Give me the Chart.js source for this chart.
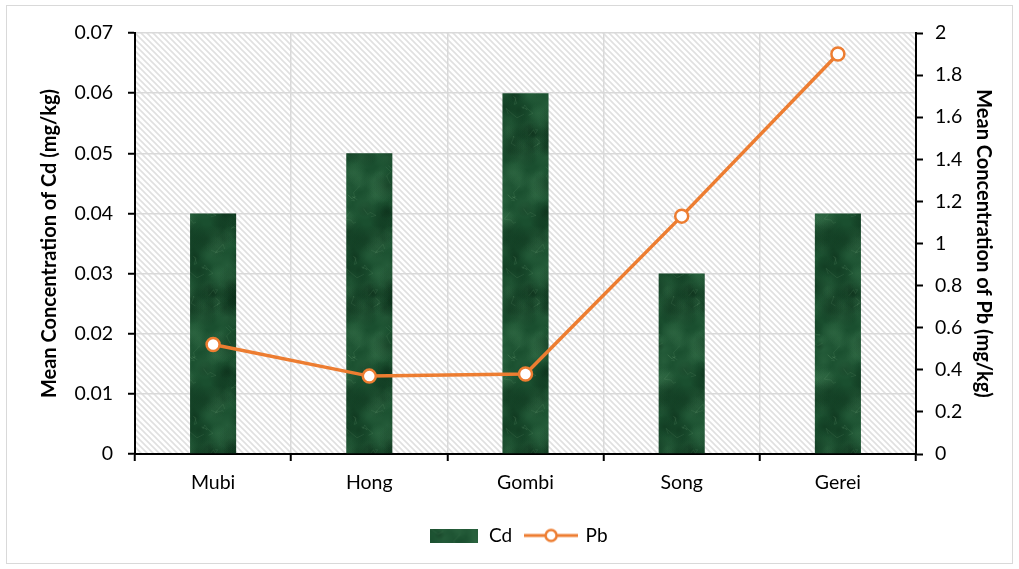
<!DOCTYPE html>
<html>
<head>
<meta charset="utf-8">
<script src="https://cdn.jsdelivr.net/npm/chart.js@4/dist/chart.umd.min.js"></script>
<style>
  html, body { margin: 0; padding: 0; background: #fff; }
  #wrap { width: 1019px; height: 569px; }
</style>
</head>
<body>
<div id="wrap"><canvas id="chart" width="1019" height="569"></canvas></div>
<script>
// data
const sites = ["Mubi", "Hong", "Gombi", "Song", "Gerei"];
const cdValues = [0.04, 0.05, 0.06, 0.03, 0.04];
const pbValues = [0.52, 0.37, 0.38, 1.13, 1.9];
const cdTicks = [0, 0.01, 0.02, 0.03, 0.04, 0.05, 0.06, 0.07];
const pbTicks = [0, 0.2, 0.4, 0.6, 0.8, 1, 1.2, 1.4, 1.6, 1.8, 2];

const FONT = "Lato, 'Open Sans', sans-serif";
const ORANGE = "#ed7d31";

// simple seeded generator so the marble texture looks the same every time
let seed = 11;
function rnd() {
  seed = (seed * 16807) % 2147483647;
  return (seed - 1) / 2147483646;
}

// dark green marble texture for the Cd bars
function makeMarble() {
  const c = document.createElement("canvas");
  c.width = 160; c.height = 160;
  const g = c.getContext("2d");
  g.fillStyle = "#1a4f2f";
  g.fillRect(0, 0, c.width, c.height);
  for (let i = 0; i < 220; i++) {
    const x = rnd() * c.width, y = rnd() * c.height, r = 5 + rnd() * 14;
    const light = rnd() > 0.55;
    const col = light ? "60,120,80" : "8,38,20";
    const a = light ? 0.3 : 0.4;
    // draw wrapped so the tile repeats without seams
    for (const dx of [-c.width, 0, c.width]) {
      for (const dy of [-c.height, 0, c.height]) {
        const grad = g.createRadialGradient(x + dx, y + dy, 0, x + dx, y + dy, r);
        grad.addColorStop(0, "rgba(" + col + "," + a + ")");
        grad.addColorStop(1, "rgba(" + col + ",0)");
        g.fillStyle = grad;
        g.beginPath(); g.arc(x + dx, y + dy, r, 0, Math.PI * 2); g.fill();
      }
    }
  }
  // faint light veins
  g.strokeStyle = "rgba(120,170,130,0.14)";
  g.lineWidth = 1;
  for (let i = 0; i < 30; i++) {
    let x = rnd() * c.width, y = rnd() * c.height;
    g.beginPath(); g.moveTo(x, y);
    for (let k = 0; k < 4; k++) { x += (rnd() - 0.5) * 14; y += (rnd() - 0.5) * 14; g.lineTo(x, y); }
    g.stroke();
  }
  return c;
}
const marble = makeMarble();
const marblePattern = document.getElementById("chart").getContext("2d").createPattern(marble, "repeat");

// diagonal light-grey stripes behind the plot
function makeStripes() {
  const c = document.createElement("canvas");
  c.width = 6; c.height = 6;
  const g = c.getContext("2d");
  g.fillStyle = "#ffffff";
  g.fillRect(0, 0, 6, 6);
  g.strokeStyle = "#e0e0e0";
  g.lineWidth = 1.6;
  g.beginPath();
  g.moveTo(-1, -1); g.lineTo(7, 7);
  g.moveTo(-1, 5); g.lineTo(1, 7);
  g.moveTo(5, -1); g.lineTo(7, 1);
  g.stroke();
  return c;
}
const stripes = makeStripes();

// legend swatches
function cdSwatch() {
  const c = document.createElement("canvas");
  c.width = 48; c.height = 14;
  const g = c.getContext("2d");
  g.drawImage(marble, 10, 20, 48, 14, 0, 0, 48, 14);
  return c;
}
function pbSwatch() {
  const c = document.createElement("canvas");
  c.width = 54; c.height = 16;
  const g = c.getContext("2d");
  g.strokeStyle = ORANGE; g.lineWidth = 3;
  g.beginPath(); g.moveTo(0, 8); g.lineTo(54, 8); g.stroke();
  g.fillStyle = "#fff"; g.lineWidth = 2.5;
  g.beginPath(); g.arc(27, 8, 5.5, 0, Math.PI * 2); g.fill(); g.stroke();
  return c;
}

const backdrop = {
  id: "backdrop",
  beforeDraw(chart) {
    const { ctx, chartArea: a } = chart;
    ctx.save();
    ctx.fillStyle = "#fff";
    ctx.fillRect(0, 0, chart.width, chart.height);
    ctx.fillStyle = ctx.createPattern(stripes, "repeat");
    ctx.fillRect(a.left, a.top, a.right - a.left, a.bottom - a.top);
    ctx.strokeStyle = "#d9d9d9";
    ctx.lineWidth = 1;
    ctx.strokeRect(6.5, 5.5, 1006, 558);
    ctx.restore();
  }
};

new Chart(document.getElementById("chart"), {
  data: {
    labels: sites,
    datasets: [
      {
        type: "line",
        label: "Pb",
        data: pbValues,
        yAxisID: "y1",
        borderColor: ORANGE,
        borderWidth: 3.5,
        pointRadius: 6.5,
        pointBorderWidth: 2.5,
        pointBackgroundColor: "#fff",
        pointBorderColor: ORANGE,
        tension: 0,
        order: 0
      },
      {
        type: "bar",
        label: "Cd",
        data: cdValues,
        yAxisID: "y",
        backgroundColor: marblePattern,
        barPercentage: 0.295,
        categoryPercentage: 1,
        order: 1
      }
    ]
  },
  options: {
    responsive: false,
    animation: false,
    layout: { padding: { top: 33, left: 38, right: 20, bottom: 14 } },
    scales: {
      x: {
        grid: { color: "#d9d9d9", lineWidth: 1.5, offset: true, tickColor: "#000", tickLength: 7, tickWidth: 2 },
        border: { color: "#000", width: 2 },
        ticks: { color: "#000", font: { family: FONT, size: 19.5 }, padding: 10 },
        afterFit(s) { s.height = 58; }
      },
      y: {
        position: "left",
        min: 0, max: 0.07,
        afterBuildTicks(s) { s.ticks = cdTicks.map(v => ({ value: v })); },
        grid: { color: "#d9d9d9", lineWidth: 1.5, tickColor: "#000", tickLength: 7, tickWidth: 2 },
        border: { color: "#000", width: 2 },
        ticks: {
          color: "#000", font: { family: FONT, size: 19.5 }, padding: 15,
          callback: v => v === 0 ? "0" : v.toFixed(2)
        },
        title: {
          display: true, text: "Mean Concentration of Cd (mg/kg)", color: "#000",
          font: { family: FONT, size: 20, weight: "bold" }, padding: { top: 0, bottom: 4 }
        },
        afterFit(s) { s.width = 97; }
      },
      y1: {
        position: "right",
        min: 0, max: 2,
        afterBuildTicks(s) { s.ticks = pbTicks.map(v => ({ value: v })); },
        grid: { drawOnChartArea: false, tickColor: "#000", tickLength: 7, tickWidth: 2 },
        border: { color: "#000", width: 2 },
        ticks: {
          color: "#000", font: { family: FONT, size: 19.5 }, padding: 12,
          callback: v => String(Number(v.toFixed(1)))
        },
        title: {
          display: true, text: "Mean Concentration of Pb (mg/kg)", color: "#000",
          font: { family: FONT, size: 20, weight: "bold" }, padding: { top: 4, bottom: 0 }
        },
        afterFit(s) { s.width = 83; }
      }
    },
    plugins: {
      legend: {
        position: "bottom",
        labels: {
          usePointStyle: true,
          pointStyleWidth: 50,
          padding: 14,
          color: "#000",
          font: { family: FONT, size: 19 },
          generateLabels(chart) {
            return chart.data.datasets
              .map((ds, i) => ({
                text: ds.label,
                datasetIndex: i,
                pointStyle: ds.label === "Cd" ? cdSwatch() : pbSwatch(),
                fontColor: "#000",
                lineWidth: 0
              }))
              .reverse();
          }
        }
      },
      tooltip: { enabled: false }
    }
  },
  plugins: [backdrop]
});
</script>
</body>
</html>
